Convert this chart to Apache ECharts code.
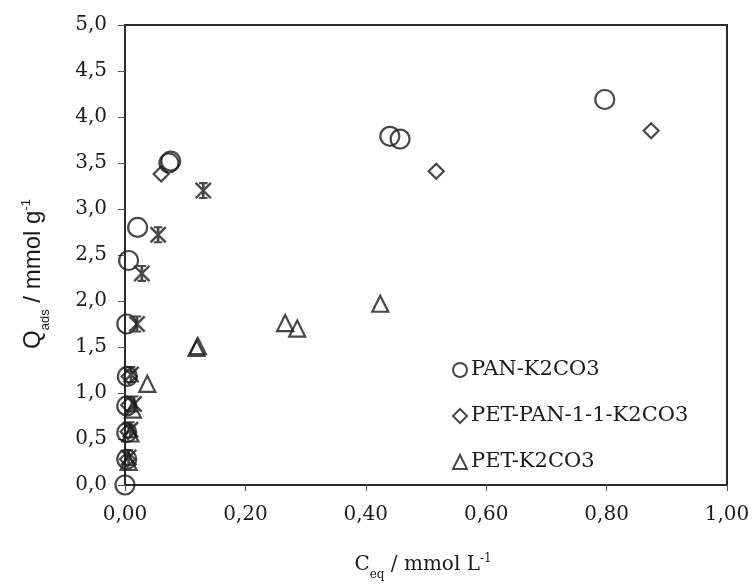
<!DOCTYPE html>
<html><head><meta charset="utf-8">
<script src="https://cdn.jsdelivr.net/npm/echarts@6/dist/echarts.min.js"></script>
<style>html,body{margin:0;padding:0;background:#fff}#c{width:753px;height:586px}</style>
</head><body><div id="c"></div>
<script>
// Data: [Ceq (mmol/L), Qads (mmol/g)]
const panK2CO3 = [[0,0],[0.003,0.28],[0.003,0.57],[0.003,0.86],[0.004,1.18],[0.003,1.75],[0.006,2.44],[0.021,2.80],[0.073,3.50],[0.076,3.52],[0.44,3.79],[0.457,3.76],[0.797,4.19]];
const petPan11K2CO3 = [[0.004,0.28],[0.005,0.58],[0.006,0.87],[0.007,1.18],[0.06,3.38],[0.517,3.41],[0.874,3.85]];
const petK2CO3 = [[0.006,0.25],[0.009,0.56],[0.013,0.82],[0.037,1.10],[0.119,1.49],[0.121,1.51],[0.266,1.76],[0.286,1.70],[0.424,1.97]];
const unlabeledStar = [[0.006,0.30],[0.009,0.60],[0.015,0.88],[0.010,1.20],[0.020,1.75],[0.028,2.30],[0.055,2.72],[0.130,3.20]];
const seriesNames = ['PAN-K2CO3','PET-PAN-1-1-K2CO3','PET-K2CO3'];

const ink = '#1a1a1a';
const serif = 'DejaVu Serif';
const sans = 'Liberation Sans';
const fmt = (d) => (v) => v.toFixed(d).replace('.', ',');
const hollow = {color:'transparent', borderColor: ink, borderWidth: 2.2};
const starPath = 'path://M4.2,0H5.8V10H4.2Z M0,1L1,0L10,9L9,10Z M9,0L10,1L1,10L0,9Z M2.5,0H7.5V1.2H2.5Z M2.5,8.8H7.5V10H2.5Z';

const chart = echarts.init(document.getElementById('c'), null, {renderer:'canvas'});
chart.setOption({
  animation:false,
  backgroundColor:'#fff',
  grid:{left:125, top:25, right:26, bottom:100, show:true, borderColor:'#2a2a2a', borderWidth:2, backgroundColor:'transparent'},
  xAxis:{
    type:'value', min:0, max:1, interval:0.2,
    axisLine:{lineStyle:{color:'#2a2a2a', width:2}},
    axisTick:{show:true, length:6, inside:false, lineStyle:{color:'#555', width:1}},
    splitLine:{show:false},
    axisLabel:{formatter:fmt(2), color:ink, fontFamily:serif, fontSize:20, margin:20},
    name:'{b|C}{s|eq}{b| / mmol L}{p|-1}', nameLocation:'middle', nameGap:68,
    nameTextStyle:{padding:[0,6,0,0], rich:{
      b:{fontFamily:serif, fontSize:20, color:ink, verticalAlign:'bottom', lineHeight:22},
      s:{fontFamily:serif, fontSize:12, color:ink, verticalAlign:'bottom', lineHeight:22, padding:[0,0,-6,0]},
      p:{fontFamily:serif, fontSize:12, color:ink, verticalAlign:'bottom', lineHeight:22, padding:[0,0,10,0]}
    }}
  },
  yAxis:{
    type:'value', min:0, max:5, interval:0.5,
    axisLine:{show:true, lineStyle:{color:'#2a2a2a', width:2}},
    axisTick:{show:true, length:7, inside:false, lineStyle:{color:'#555', width:1}},
    splitLine:{show:false},
    axisLabel:{formatter:fmt(1), color:ink, fontFamily:serif, fontSize:20, margin:18},
    name:'{b|Q}{s|ads}{b| / mmol g}{p|-1}', nameLocation:'middle', nameGap:80, nameRotate:90,
    nameTextStyle:{padding:[0,38,0,0], rich:{
      b:{fontFamily:sans, fontSize:24, color:ink, verticalAlign:'bottom', lineHeight:26},
      s:{fontFamily:sans, fontSize:13, color:ink, verticalAlign:'bottom', lineHeight:26, padding:[0,0,-7,0]},
      p:{fontFamily:sans, fontSize:13, color:ink, verticalAlign:'bottom', lineHeight:26, padding:[0,0,12,0]}
    }}
  },
  legend:{
    data:seriesNames, orient:'vertical', left:447, top:354, itemWidth:14, itemHeight:14, itemGap:24,
    itemStyle:{color:'transparent', borderColor:ink, borderWidth:2},
    textStyle:{fontFamily:serif, fontSize:21, color:ink, lineHeight:22, padding:[0,0,0,-1]}
  },
  series:[
    {name:seriesNames[0], type:'scatter', data:panK2CO3, symbol:'circle', symbolSize:19, itemStyle:hollow, z:3},
    {name:seriesNames[1], type:'scatter', data:petPan11K2CO3, symbol:'diamond', symbolSize:15, itemStyle:hollow, z:3},
    {name:seriesNames[2], type:'scatter', data:petK2CO3, symbol:'triangle', symbolSize:16, itemStyle:hollow, z:3},
    {name:'star', type:'scatter', data:unlabeledStar, symbol:starPath, symbolSize:17, itemStyle:{color:ink}, z:3}
  ]
});
</script></body></html>
